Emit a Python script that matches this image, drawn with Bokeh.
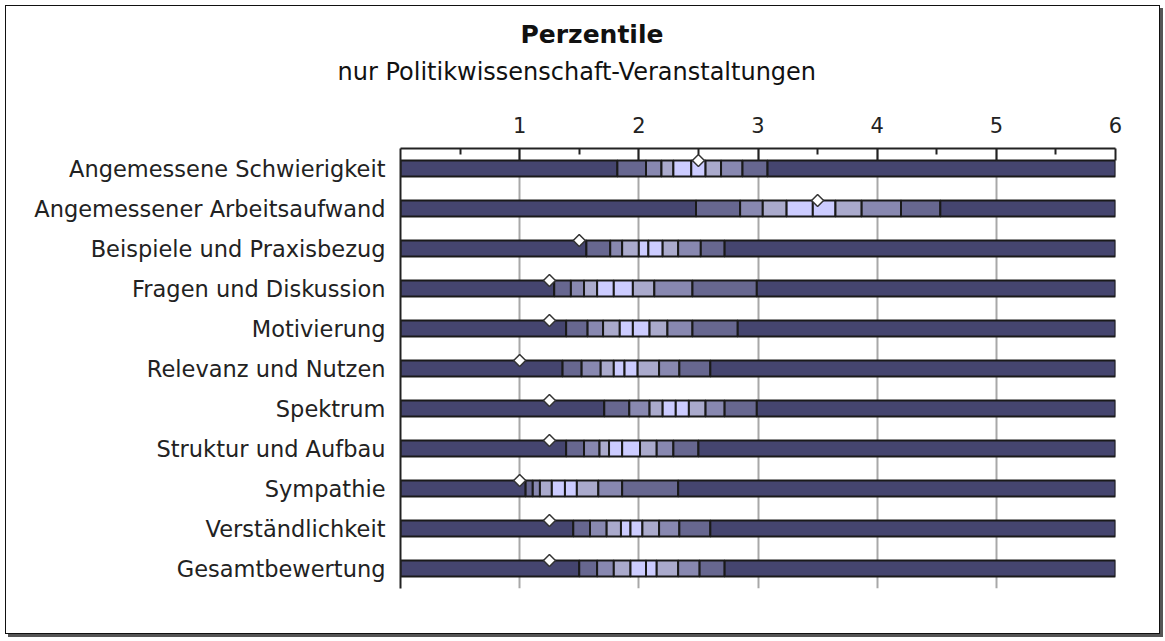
import math
from bokeh.plotting import figure
from bokeh.models import (ColumnDataSource, FactorRange, Range1d, FixedTicker, Title)
from bokeh.transform import dodge
from bokeh.embed import file_html
from bokeh.resources import INLINE

# ---------------- data ----------------
categories = [
    "Angemessene Schwierigkeit",
    "Angemessener Arbeitsaufwand",
    "Beispiele und Praxisbezug",
    "Fragen und Diskussion",
    "Motivierung",
    "Relevanz und Nutzen",
    "Spektrum",
    "Struktur und Aufbau",
    "Sympathie",
    "Verständlichkeit",
    "Gesamtbewertung",
]
p10 = [1.82, 2.48, 1.56, 1.29, 1.39, 1.36, 1.71, 1.39, 1.05, 1.45, 1.50]
p20 = [2.06, 2.85, 1.76, 1.43, 1.57, 1.52, 1.92, 1.54, 1.11, 1.59, 1.65]
p30 = [2.19, 3.04, 1.86, 1.54, 1.70, 1.68, 2.09, 1.67, 1.17, 1.73, 1.79]
p40 = [2.29, 3.24, 2.00, 1.65, 1.84, 1.79, 2.20, 1.75, 1.27, 1.85, 1.93]
p50 = [2.44, 3.46, 2.08, 1.79, 1.95, 1.88, 2.31, 1.86, 1.38, 1.93, 2.06]
p60 = [2.56, 3.65, 2.20, 1.95, 2.09, 1.99, 2.42, 2.01, 1.48, 2.03, 2.15]
p70 = [2.69, 3.87, 2.33, 2.13, 2.24, 2.17, 2.56, 2.15, 1.66, 2.17, 2.33]
p80 = [2.87, 4.20, 2.52, 2.45, 2.45, 2.34, 2.72, 2.29, 1.86, 2.34, 2.51]
p90 = [3.08, 4.53, 2.72, 2.99, 2.83, 2.60, 2.99, 2.50, 2.33, 2.60, 2.72]
marker_value = [2.5, 3.5, 1.5, 1.25, 1.25, 1.0, 1.25, 1.25, 1.0, 1.25, 1.25]
scale_min, scale_max = 0, 6
tick_values = [1, 2, 3, 4, 5, 6]

title_text = "Perzentile"
subtitle_text = "nur Politikwissenschaft-Veranstaltungen"

# ---------------- styling ----------------
FONT = "DejaVu Sans"
shades = ["#45456f", "#676790", "#8888b0", "#aaaacc", "#ccccff",
          "#ccccff", "#aaaacc", "#8888b0", "#676790", "#45456f"]

pcts = [p10, p20, p30, p40, p50, p60, p70, p80, p90]
seg_cat, seg_left, seg_right, seg_color = [], [], [], []
for i, cat in enumerate(categories):
    bounds = [scale_min] + [arr[i] for arr in pcts] + [scale_max]
    for k in range(len(bounds) - 1):
        seg_cat.append(cat)
        seg_left.append(bounds[k])
        seg_right.append(bounds[k + 1])
        seg_color.append(shades[k])
seg_src = ColumnDataSource(dict(cat=seg_cat, left=seg_left, right=seg_right, color=seg_color))
mk_src = ColumnDataSource(dict(cat=categories, x=marker_value))

p = figure(width=1155, height=629,
           x_range=Range1d(scale_min, scale_max),
           y_range=FactorRange(factors=categories[::-1]),
           x_axis_location="above", y_axis_location="left",
           output_backend="svg", toolbar_location=None,
           min_border_left=394, min_border_right=46,
           min_border_top=142, min_border_bottom=47)
p.styles = {"border": "1px solid #111", "box-shadow": "3px 3px 0px #555",
            "margin-left": "5px", "margin-top": "5px"}
p.outline_line_color = None
p.background_fill_color = "white"
p.border_fill_color = "white"

# grid
p.ygrid.grid_line_color = None
p.xgrid.ticker = FixedTicker(ticks=tick_values)
p.xgrid.grid_line_color = "#a8a8a8"
p.xgrid.grid_line_width = 2

# top axis
xa = p.xaxis[0]
xa.ticker = FixedTicker(ticks=tick_values,
                        minor_ticks=[0.5, 1.5, 2.5, 3.5, 4.5, 5.5])
xa.major_tick_in = 12
xa.major_tick_out = 0
xa.minor_tick_in = 6
xa.minor_tick_out = 0
xa.major_tick_line_color = "#222222"
xa.minor_tick_line_color = "#222222"
xa.major_tick_line_width = 2
xa.minor_tick_line_width = 2
xa.axis_line_color = "#222222"
xa.axis_line_width = 2
xa.major_label_text_font = FONT
xa.major_label_text_font_size = "21px"
xa.major_label_text_color = "#222222"
xa.major_label_standoff = 16

# left axis
ya = p.yaxis[0]
ya.major_tick_in = 0
ya.major_tick_out = 0
ya.minor_tick_in = 0
ya.minor_tick_out = 0
ya.axis_line_color = "#222222"
ya.axis_line_width = 2
ya.major_label_text_font = FONT
ya.major_label_text_font_size = "22.5px"
ya.major_label_text_color = "#222222"
ya.major_label_standoff = 15

# bars
p.hbar(y="cat", left="left", right="right", height=0.4, source=seg_src,
       fill_color="color", line_color="#1a1a1a", line_width=2)

# markers (diamonds sitting on the upper edge of each bar)
p.scatter(x="x", y=dodge("cat", 0.2, range=p.y_range), source=mk_src,
          marker="square", angle=math.pi / 4, size=8.5,
          fill_color="white", line_color="#333333", line_width=1.5)

# titles (first added sits closest to the plot)
p.add_layout(Title(text=" ", standoff=18, text_font=FONT, text_font_size="1px"), "above")
p.add_layout(Title(text=subtitle_text, align="left", offset=-63, standoff=14,
                   vertical_align="bottom", text_font=FONT, text_font_size="24px",
                   text_font_style="normal", text_color="#111111"), "above")
p.add_layout(Title(text=title_text, align="left", offset=120, standoff=0,
                   vertical_align="bottom", text_font=FONT, text_font_size="25px",
                   text_font_style="bold", text_color="#111111"), "above")

open("out.html", "w").write(file_html(p, INLINE))
